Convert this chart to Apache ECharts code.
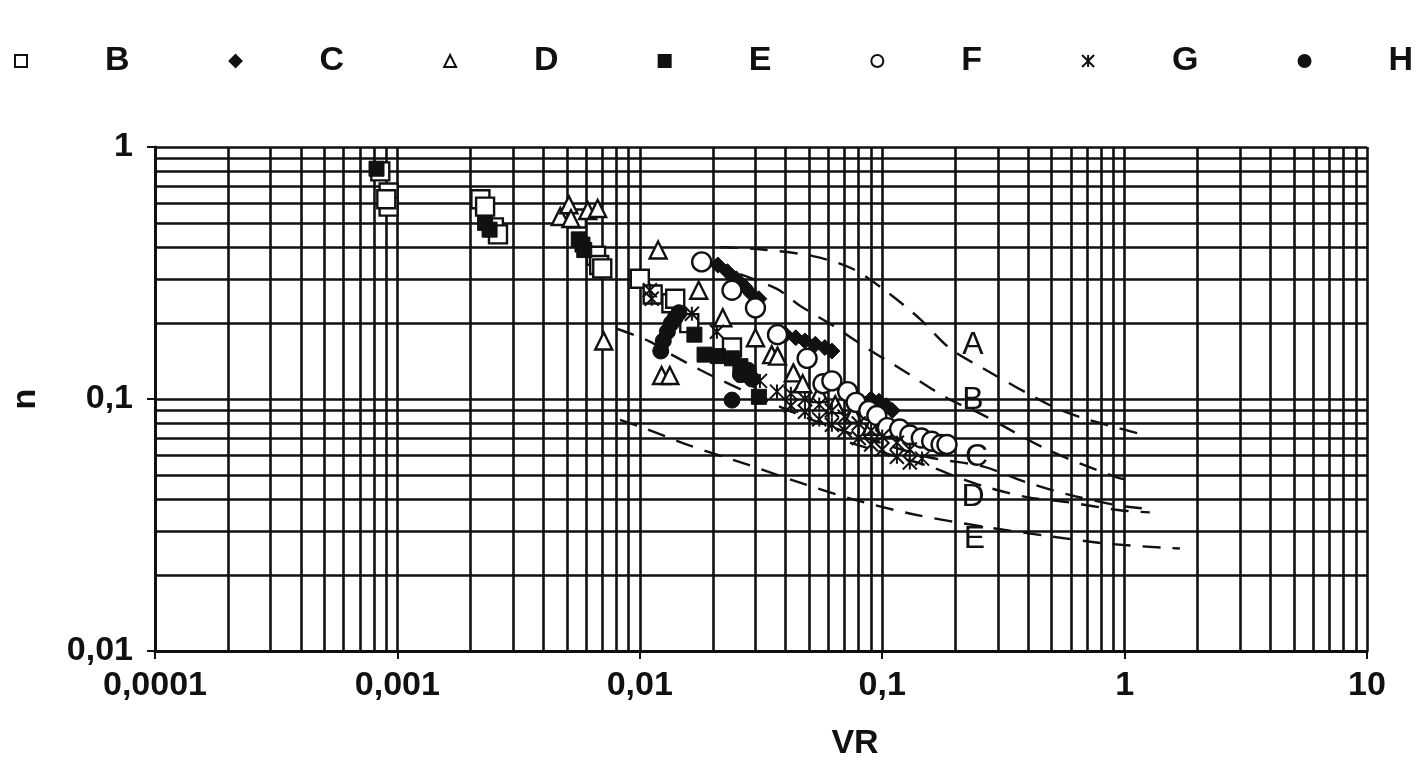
<!DOCTYPE html>
<html lang="en">
<head>
    <meta charset="UTF-8">
    <title>n - VR</title>
    <script src="https://cdn.jsdelivr.net/npm/echarts@6/dist/echarts.min.js"></script>
    <style>
        html, body { margin: 0; padding: 0; background: #fff; }
        #main { width: 1420px; height: 766px; }
    </style>
</head>
<body>
<div id="main"></div>

<script type="text/javascript">
    // tick labels (decimal comma, as in the original)
    var xTickLabels = ['0,0001', '0,001', '0,01', '0,1', '1', '10'];
    var yTickLabels = ['0,01', '0,1', '1'];

    // grid lines of the log paper
    var xDecades = [0.0001, 0.001, 0.01, 0.1, 1];
    var yDecades = [0.01, 0.1];
    var mantissas = [1, 2, 3, 4, 5, 6, 7, 8, 9];

    // measured points [VR, n]
    var dataB = [[0.00085, 0.80], [0.00092, 0.66], [0.00092, 0.58], [0.0009, 0.62], [0.0022, 0.62], [0.0023, 0.58],
        [0.0025, 0.48], [0.0026, 0.45], [0.0055, 0.52], [0.0066, 0.37], [0.0068, 0.34], [0.0070, 0.33],
        [0.0100, 0.30], [0.0113, 0.26], [0.0135, 0.24], [0.0140, 0.25], [0.0160, 0.20], [0.024, 0.16]];
    var dataC = [[0.021, 0.34], [0.023, 0.32], [0.025, 0.30], [0.027, 0.28], [0.029, 0.26], [0.031, 0.25],
        [0.040, 0.18], [0.044, 0.175], [0.048, 0.17], [0.053, 0.165], [0.058, 0.16], [0.062, 0.155],
        [0.090, 0.10], [0.097, 0.098], [0.104, 0.094], [0.11, 0.09]];
    var dataD = [[0.0047, 0.53], [0.0051, 0.59], [0.0052, 0.52], [0.0061, 0.56], [0.0067, 0.57], [0.0071, 0.17],
        [0.0119, 0.39], [0.0123, 0.124], [0.0133, 0.124], [0.0175, 0.27], [0.022, 0.21], [0.030, 0.175],
        [0.035, 0.15], [0.037, 0.148], [0.043, 0.127], [0.047, 0.115], [0.055, 0.105], [0.064, 0.095],
        [0.076, 0.087], [0.09, 0.078]];
    var dataE = [[0.00082, 0.82], [0.0023, 0.50], [0.0024, 0.47], [0.0056, 0.43], [0.0058, 0.41], [0.0059, 0.39],
        [0.0168, 0.18], [0.0185, 0.15], [0.021, 0.148], [0.024, 0.145], [0.026, 0.135], [0.027, 0.125],
        [0.031, 0.102]];
    var dataF = [[0.018, 0.35], [0.024, 0.27], [0.030, 0.23], [0.037, 0.18], [0.049, 0.145], [0.057, 0.115],
        [0.062, 0.118], [0.072, 0.107], [0.078, 0.097], [0.088, 0.09], [0.095, 0.086], [0.105, 0.077],
        [0.118, 0.076], [0.13, 0.072], [0.145, 0.07], [0.16, 0.068], [0.175, 0.066], [0.185, 0.066]];
    var dataG = [[0.0110, 0.27], [0.0112, 0.25], [0.0164, 0.218], [0.0208, 0.185], [0.0313, 0.118], [0.0368, 0.107],
        [0.042, 0.094], [0.042, 0.105], [0.048, 0.089], [0.048, 0.10], [0.055, 0.083], [0.055, 0.095],
        [0.062, 0.079], [0.062, 0.09], [0.07, 0.075], [0.07, 0.085], [0.08, 0.07], [0.08, 0.08],
        [0.09, 0.066], [0.09, 0.075], [0.10, 0.063], [0.10, 0.071], [0.115, 0.059], [0.115, 0.067],
        [0.13, 0.056], [0.13, 0.063], [0.146, 0.058]];
    var dataH = [[0.0122, 0.155], [0.0125, 0.17], [0.013, 0.185], [0.0135, 0.20], [0.014, 0.21], [0.0145, 0.22],
        [0.024, 0.099], [0.026, 0.125], [0.028, 0.13], [0.029, 0.12]];

    // dashed reference curves
    var curveA = [[0.0214, 0.400], [0.0313, 0.393], [0.0518, 0.369], [0.0758, 0.328], [0.1047, 0.266],
        [0.143, 0.208], [0.19, 0.159], [0.26, 0.1325], [0.49, 0.0947], [0.67, 0.0842], [1.19, 0.0722]];
    var curveB = [[0.0259, 0.313], [0.0368, 0.2735], [0.0458, 0.2344], [0.0627, 0.1955], [0.0865, 0.159],
        [0.118, 0.1325], [0.185, 0.1009], [0.26, 0.0865], [0.49, 0.0624], [0.93, 0.0489], [1.08, 0.0475]];
    var curveC = [[0.00805, 0.190], [0.0110, 0.169], [0.0137, 0.149], [0.0189, 0.1265], [0.0313, 0.1009],
        [0.0553, 0.0804], [0.098, 0.0671], [0.157, 0.0586], [0.26, 0.054], [0.395, 0.0467], [0.578, 0.0419],
        [0.93, 0.0379], [1.27, 0.0366]];
    var curveD = [[0.0736, 0.0671], [0.118, 0.0586], [0.162, 0.0535], [0.196, 0.0497], [0.27, 0.0447],
        [0.395, 0.0408], [0.578, 0.039], [0.957, 0.0362], [1.27, 0.0355]];
    var curveE = [[0.00828, 0.0827], [0.0103, 0.0769], [0.0161, 0.0653], [0.0277, 0.055], [0.0429, 0.0475],
        [0.0758, 0.040], [0.134, 0.0349], [0.27, 0.031], [0.507, 0.0284], [0.871, 0.0266], [1.69, 0.0255]];
    var curveNames = ['A', 'B', 'C', 'D', 'E'];
    var curveLabelAt = [[0.237, 0.163], [0.237, 0.099], [0.245, 0.0586], [0.237, 0.0408], [0.24, 0.0279]];

    var ink = '#111';
    var font = 'Liberation Sans, Arial, sans-serif';
    var starPath = 'path://M0,0L10,10M10,0L0,10M5,0L5,10';

    var myChart = echarts.init(document.getElementById('main'));

    var vLines = [], hLines = [];
    xDecades.forEach(function (d) {
        mantissas.forEach(function (m) { vLines.push({xAxis: d * m}); });
    });
    vLines.push({xAxis: 10});
    yDecades.forEach(function (d) {
        mantissas.forEach(function (m) { hLines.push({yAxis: d * m}); });
    });
    hLines.push({yAxis: 1});

    function scatter(name, data, symbol, size, filled) {
        return {
            name: name,
            type: 'scatter',
            data: data,
            symbol: symbol,
            symbolSize: size,
            z: 5,
            itemStyle: filled
                ? {color: ink, borderColor: ink, borderWidth: 1, opacity: 1}
                : {color: '#fff', borderColor: ink, borderWidth: 2.4, opacity: 1}
        };
    }

    function curve(i, data) {
        var at = curveLabelAt[i];
        return {
            name: 'curve ' + curveNames[i],
            type: 'line',
            data: data,
            smooth: 0.3,
            symbol: 'none',
            z: 4,
            lineStyle: {color: ink, width: 2.4, type: [18, 12]},
            markPoint: {
                symbol: 'circle',
                symbolSize: 0,
                silent: true,
                label: {show: true, formatter: curveNames[i], color: ink, fontFamily: font, fontSize: 32,
                    position: 'inside'},
                data: [{coord: at}]
            }
        };
    }

    var option = {
        animation: false,
        backgroundColor: '#fff',
        legend: {
            data: ['B', 'C', 'D', 'E', 'F', 'G', 'H'],
            left: 9,
            top: 39,
            width: 1411,
            itemWidth: 12,
            itemHeight: 12,
            itemGap: 99,
            formatter: function (name) { return '{g| }{t|' + name + '}'; },
            textStyle: {
                color: ink,
                fontFamily: font,
                fontSize: 34,
                rich: {
                    g: {width: 73},
                    t: {fontSize: 34, fontFamily: font, fontWeight: 'bold', color: ink}
                }
            }
        },
        grid: {left: 155, right: 53, top: 147, bottom: 111},
        xAxis: {
            type: 'log',
            logBase: 10,
            min: 0.0001,
            max: 10,
            name: 'VR',
            nameLocation: 'middle',
            nameGap: 76,
            nameTextStyle: {color: ink, fontFamily: font, fontSize: 34, fontWeight: 'bold', padding: [0, 0, 0, 188]},
            axisLine: {lineStyle: {color: ink, width: 3}},
            axisTick: {show: true, length: 8, lineStyle: {color: ink, width: 2}},
            axisLabel: {
                color: ink, fontFamily: font, fontSize: 34, fontWeight: 'bold', margin: 18,
                formatter: function (v) { return xTickLabels[Math.round(Math.log10(v)) + 4]; }
            },
            splitLine: {show: false}
        },
        yAxis: {
            type: 'log',
            logBase: 10,
            min: 0.01,
            max: 1,
            name: 'n',
            nameLocation: 'middle',
            nameGap: 112,
            nameTextStyle: {color: ink, fontFamily: font, fontSize: 34, fontWeight: 'bold'},
            axisLine: {lineStyle: {color: ink, width: 3}},
            axisTick: {show: true, length: 8, lineStyle: {color: ink, width: 2}},
            axisLabel: {
                color: ink, fontFamily: font, fontSize: 34, fontWeight: 'bold', margin: 22,
                formatter: function (v) { return yTickLabels[Math.round(Math.log10(v)) + 2]; }
            },
            splitLine: {show: false}
        },
        series: [
            {
                name: 'grid',
                type: 'line',
                data: [],
                z: 1,
                silent: true,
                markLine: {
                    silent: true,
                    precision: 8,
                    symbol: ['none', 'none'],
                    label: {show: false},
                    lineStyle: {color: ink, width: 2.6, type: 'solid'},
                    data: vLines.concat(hLines)
                }
            },
            curve(0, curveA),
            curve(1, curveB),
            curve(2, curveC),
            curve(3, curveD),
            curve(4, curveE),
            scatter('B', dataB, 'rect', 18, false),
            scatter('C', dataC, 'diamond', 16, true),
            scatter('D', dataD, 'triangle', 17, false),
            scatter('E', dataE, 'rect', 15, true),
            scatter('F', dataF, 'circle', 19, false),
            {
                name: 'G',
                type: 'scatter',
                data: dataG,
                symbol: starPath,
                symbolSize: 14,
                z: 5,
                itemStyle: {color: 'rgba(0,0,0,0)', borderColor: ink, borderWidth: 2, opacity: 1}
            },
            scatter('H', dataH, 'circle', 16, true)
        ]
    };

    myChart.setOption(option);
</script>
</body>
</html>
